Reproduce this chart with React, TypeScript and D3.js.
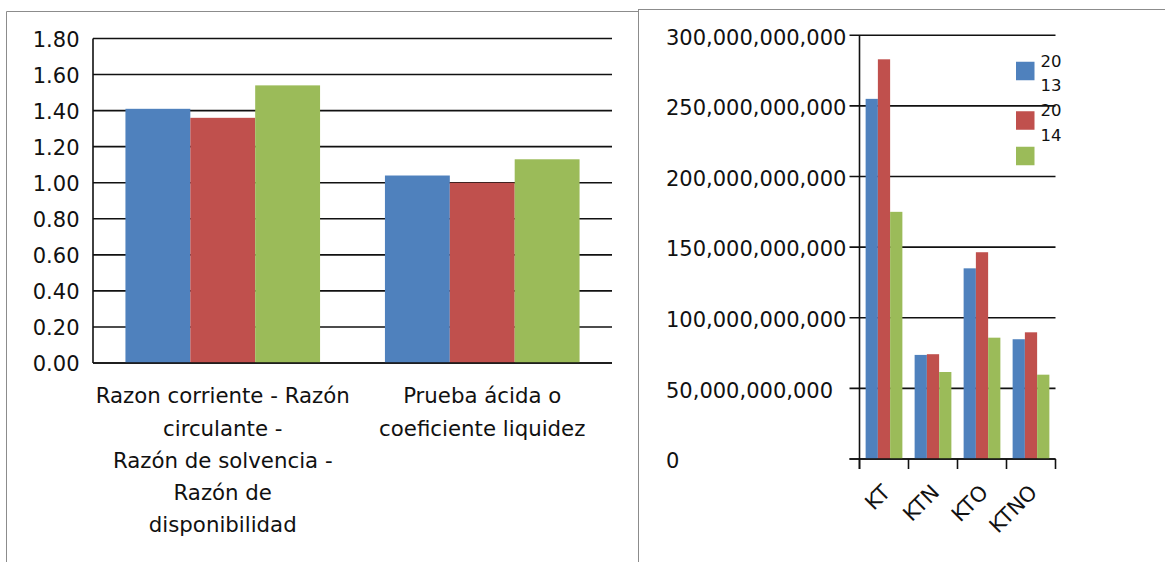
import React from "react";
import * as d3 from "d3";

// ---- data ----
const ratioCategories = [
  "Razon corriente - Razón\ncirculante -\nRazón de solvencia -\nRazón de\ndisponibilidad",
  "Prueba ácida o\ncoeficiente liquidez",
];
const ratio2013 = [1.41, 1.04];
const ratio2014 = [1.36, 1.0];
const ratio2015 = [1.54, 1.13];
const ratioTicks = [0, 0.2, 0.4, 0.6, 0.8, 1.0, 1.2, 1.4, 1.6, 1.8];

const capitalCategories = ["KT", "KTN", "KTO", "KTNO"];
const capital2013 = [255e9, 73.7e9, 135e9, 84.8e9];
const capital2014 = [283e9, 74.2e9, 146.4e9, 89.7e9];
const capital2015 = [175e9, 61.6e9, 85.9e9, 59.7e9];
const capitalTicks = [0, 50e9, 100e9, 150e9, 200e9, 250e9, 300e9];

const seriesNames = ["2013", "2014", ""];
const seriesColors = ["#4F81BD", "#C0504D", "#9BBB59"];

const FONT = "'DejaVu Sans', sans-serif";
const W = 1165;
const H = 562;
const INK = "#111";
const GRID_W = 1.6;

function RatioChart() {
  const left = 93;
  const right = 612;
  const series = [ratio2013, ratio2014, ratio2015];
  const x0 = d3
    .scaleBand<string>()
    .domain(ratioCategories)
    .range([left, right])
    .paddingInner(0.25)
    .paddingOuter(0.125);
  const x1 = d3
    .scaleBand<number>()
    .domain(series.map((_, i) => i))
    .range([0, x0.bandwidth()]);
  const y = d3.scaleLinear().domain([0, 1.8]).range([363, 38.5]);
  const fmt = d3.format(".2f");

  return (
    <g>
      {ratioTicks.map((t) => (
        <g key={t}>
          <line x1={left} x2={right} y1={y(t)} y2={y(t)} stroke={INK} strokeWidth={GRID_W} />
          <text x={79.5} y={y(t) + 8} textAnchor="end" fontSize={21} fill={INK}>
            {fmt(t)}
          </text>
        </g>
      ))}
      {ratioCategories.map((c, ci) => (
        <g key={c}>
          {series.map((s, si) => (
            <rect
              key={si}
              x={(x0(c) as number) + (x1(si) as number)}
              y={y(s[ci])}
              width={x1.bandwidth()}
              height={y(0) - y(s[ci])}
              fill={seriesColors[si]}
            />
          ))}
          {c.split("\n").map((line, li) => (
            <text
              key={li}
              x={(x0(c) as number) + x0.bandwidth() / 2}
              y={403.3 + li * 32.2}
              textAnchor="middle"
              fontSize={21.3}
              fill={INK}
            >
              {line}
            </text>
          ))}
        </g>
      ))}
      <line x1={left} x2={left} y1={y(1.8)} y2={y(0)} stroke={INK} strokeWidth={GRID_W} />
      <line x1={left} x2={right} y1={y(0)} y2={y(0)} stroke={INK} strokeWidth={GRID_W} />
    </g>
  );
}

function CapitalChart() {
  const left = 859.5;
  const right = 1055.5;
  const series = [capital2013, capital2014, capital2015];
  const x0 = d3
    .scaleBand<string>()
    .domain(capitalCategories)
    .range([left, right])
    .paddingInner(0.25)
    .paddingOuter(0.125);
  const x1 = d3
    .scaleBand<number>()
    .domain(series.map((_, i) => i))
    .range([0, x0.bandwidth()]);
  const y = d3.scaleLinear().domain([0, 300e9]).range([459, 35.3]);
  const fmt = d3.format(",");
  const bounds = capitalCategories.map((c) => (x0(c) as number) - x0.step() * 0.125);
  bounds.push(right);

  // legend entries: names wrapped into two-character lines
  let cursor = 48.75;
  const legend = seriesNames.map((name, i) => {
    const lines = name.match(/.{1,2}/g) || [];
    const h = lines.length ? lines.length * 24.75 : 22;
    const top = cursor;
    cursor += h;
    const swatchY = lines.length ? top + h / 2 - 11.75 : top - 1;
    return { name, lines, top, swatchY, color: seriesColors[i] };
  });

  return (
    <g>
      {capitalTicks.map((t) => (
        <g key={t}>
          <line x1={left - 10} x2={right} y1={y(t)} y2={y(t)} stroke={INK} strokeWidth={GRID_W} />
          <text x={666} y={y(t) + 9.3} textAnchor="start" fontSize={21} fill={INK}>
            {fmt(t)}
          </text>
        </g>
      ))}
      {capitalCategories.map((c, ci) => (
        <g key={c}>
          {series.map((s, si) => (
            <rect
              key={si}
              x={(x0(c) as number) + (x1(si) as number)}
              y={y(s[ci])}
              width={x1.bandwidth()}
              height={y(0) - y(s[ci])}
              fill={seriesColors[si]}
            />
          ))}
          <text
            transform={`translate(${(x0(c) as number) + x0.bandwidth() / 2 + 7.5},${493.7}) rotate(-45)`}
            textAnchor="end"
            fontSize={21}
            fill={INK}
          >
            {c}
          </text>
        </g>
      ))}
      <line x1={left} x2={left} y1={y(300e9)} y2={y(0) + 10} stroke={INK} strokeWidth={GRID_W} />
      <line x1={left - 10} x2={right} y1={y(0)} y2={y(0)} stroke={INK} strokeWidth={GRID_W} />
      {bounds.map((bx, i) => (
        <line key={i} x1={bx} x2={bx} y1={y(0)} y2={y(0) + 10} stroke={INK} strokeWidth={GRID_W} />
      ))}
      {legend.map((e) => (
        <g key={e.color}>
          <rect x={1016} y={e.swatchY} width={18.5} height={18.5} fill={e.color} />
          {e.lines.map((ln, li) => (
            <text key={li} x={1040.5} y={e.top + 17.75 + li * 24.75} fontSize={16.5} fill={INK}>
              {ln}
            </text>
          ))}
        </g>
      ))}
    </g>
  );
}

export default function App() {
  return (
    <div style={{ position: "absolute", left: 0, top: 0, width: W, height: H, background: "#fff" }}>
      <svg width={W} height={H} style={{ display: "block", fontFamily: FONT }}>
        <rect x={0} y={0} width={W} height={H} fill="#fff" />
        {/* panel frames */}
        <line x1={6.5} x2={638} y1={11.5} y2={11.5} stroke="#8c8c8c" strokeWidth={1} />
        <line x1={6.5} x2={6.5} y1={11.5} y2={H} stroke="#8c8c8c" strokeWidth={1} />
        <line x1={638.5} x2={638.5} y1={9} y2={H} stroke="#8c8c8c" strokeWidth={1} />
        <line x1={638} x2={W} y1={9.5} y2={9.5} stroke="#8c8c8c" strokeWidth={1} />
        <RatioChart />
        <CapitalChart />
      </svg>
    </div>
  );
}
